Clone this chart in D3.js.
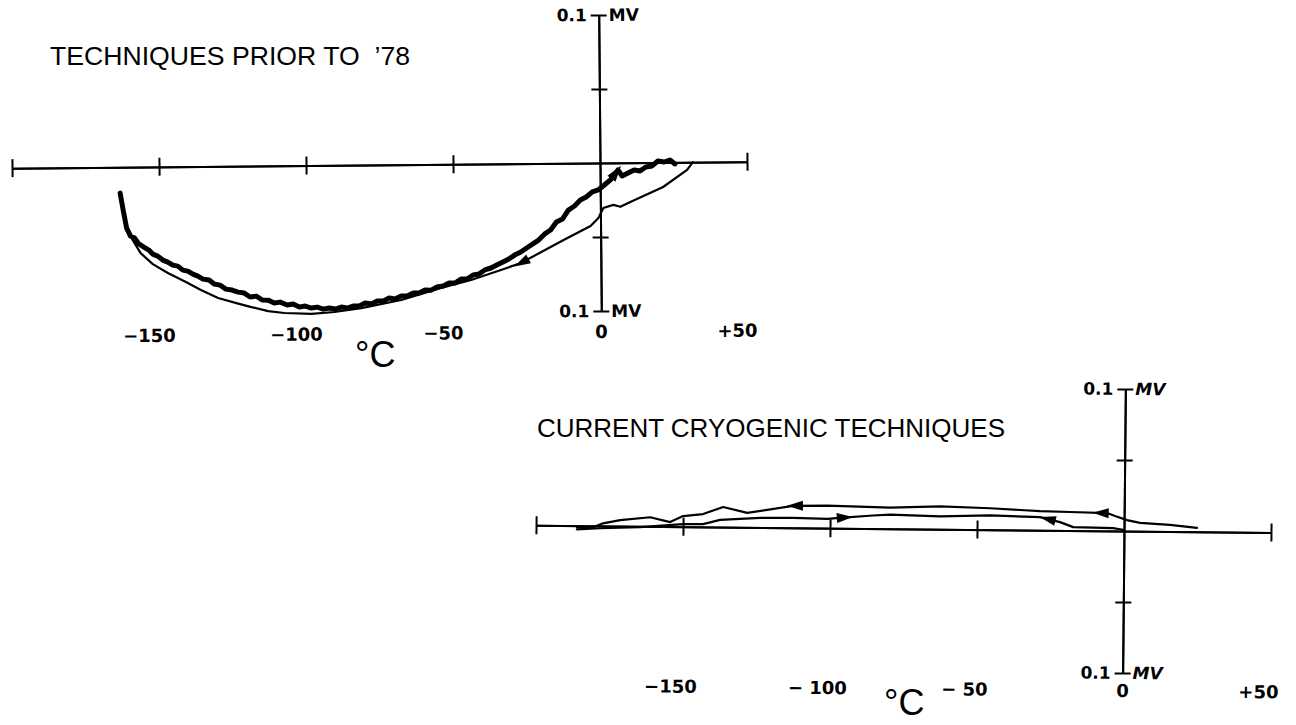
<!DOCTYPE html>
<html>
<head>
<meta charset="utf-8">
<script src="https://cdn.jsdelivr.net/npm/d3@7"></script>
<style>
  html, body { margin: 0; padding: 0; background: #fff; }
  svg { display: block; }
  .title { font-family: "Liberation Sans", Arial, sans-serif; font-size: 25px; fill: #000; white-space: pre; }
  .tick-label { font-family: "DejaVu Sans", sans-serif; font-weight: bold; font-size: 18px; fill: #000; white-space: pre; }
  .unit { font-family: "DejaVu Sans", sans-serif; font-weight: bold; font-size: 17px; fill: #000; }
  .degc { font-family: "Liberation Sans", Arial, sans-serif; font-size: 36px; fill: #000; }
</style>
</head>
<body>
<svg id="chart" width="1296" height="725"></svg>
<script>
// ---------------- DATA ----------------
const topTitle = "TECHNIQUES PRIOR TO  \u201978";
const bottomTitle = "CURRENT CRYOGENIC TECHNIQUES";

const xTickValues = [-200, -150, -100, -50, 50];
const yTickValues = [-0.1, -0.05, 0.05, 0.1];
const xLabelValues = [-150, -100, -50, 0, 50];
const topXLabels = ["\u2212150", "\u2212100", "\u221250", "0", "+50"];
const bottomXLabels = ["\u2212150", "\u2212 100", "\u2212 50", "0", "+50"];
const yUnitLabel = "0.1";
const yUnitName = "MV";
const xUnitName = "\u00B0C";

// Top panel: smooth trace (cooling), [°C, mV]
const topCool = [[-163.3,-0.0175],[-162.6,-0.0256],[-161.6,-0.0378],[-159.2,-0.0493],[-156.5,-0.0582],
  [-152.4,-0.0657],[-147.3,-0.0718],[-141.2,-0.0780],[-136.1,-0.0835],[-130.3,-0.0890],[-124.1,-0.0925],
  [-119.0,-0.0953],[-113.3,-0.0981],[-107.8,-0.0995],[-98.6,-0.1003],[-90.8,-0.0991],[-81.6,-0.0966],
  [-68.0,-0.0914],[-54.4,-0.0835],[-44.2,-0.0783],[-34.0,-0.0717],[-27.2,-0.0671],[-12.6,-0.0518],
  [-3.4,-0.0425],[-0.7,-0.0372],[1.0,-0.0304],[4.4,-0.0284],[6.8,-0.0297],[10.2,-0.0265],
  [21.4,-0.0166],[29.6,-0.0052],[31.6,0.0001]];

// Top panel: noisy trace (warming), [°C, mV]
const topHeat = [[-163.3,-0.0175],[-162.2,-0.0304],[-161.2,-0.0412],[-159.9,-0.0466],[-158.5,-0.0480],
  [-157.1,-0.0520],[-155.4,-0.0541],[-153.7,-0.0562],[-152.4,-0.0589],[-150.7,-0.0603],[-149.0,-0.0630],
  [-147.3,-0.0644],[-145.6,-0.0665],[-143.9,-0.0672],[-142.2,-0.0699],[-140.5,-0.0706],[-138.8,-0.0727],
  [-137.1,-0.0741],[-135.4,-0.0761],[-133.3,-0.0768],[-131.6,-0.0795],[-129.6,-0.0803],[-127.6,-0.0830],
  [-125.5,-0.0837],[-123.5,-0.0851],[-121.4,-0.0858],[-119.4,-0.0885],[-117.3,-0.0879],[-115.3,-0.0906],
  [-113.3,-0.0907],[-111.2,-0.0927],[-109.2,-0.0921],[-106.8,-0.0941],[-104.8,-0.0935],[-102.7,-0.0956],
  [-100.7,-0.0949],[-98.6,-0.0963],[-96.6,-0.0957],[-94.6,-0.0971],[-92.5,-0.0964],[-90.5,-0.0971],
  [-88.4,-0.0958],[-86.4,-0.0965],[-84.4,-0.0952],[-82.3,-0.0952],[-80.3,-0.0932],[-78.2,-0.0939],
  [-76.2,-0.0920],[-74.1,-0.0920],[-72.1,-0.0900],[-70.1,-0.0907],[-68.0,-0.0887],[-66.0,-0.0888],
  [-63.9,-0.0868],[-61.9,-0.0868],[-59.9,-0.0848],[-57.8,-0.0849],[-55.8,-0.0828],[-53.7,-0.0822],
  [-51.7,-0.0802],[-49.7,-0.0803],[-47.6,-0.0776],[-45.6,-0.0776],[-43.5,-0.0749],[-41.5,-0.0743],
  [-39.5,-0.0716],[-37.4,-0.0703],[-35.4,-0.0683],[-33.3,-0.0663],[-31.3,-0.0643],[-29.3,-0.0617],
  [-27.2,-0.0597],[-25.2,-0.0570],[-23.1,-0.0543],[-21.1,-0.0517],[-19.0,-0.0476],[-17.0,-0.0450],
  [-15.0,-0.0396],[-12.9,-0.0376],[-10.9,-0.0316],[-8.8,-0.0289],[-6.8,-0.0249],[-4.8,-0.0229],
  [-2.7,-0.0195],[-0.7,-0.0182],[1.4,-0.0149],[3.4,-0.0116],[4.8,-0.0082],[6.1,-0.0048],[7.5,-0.0089],
  [9.5,-0.0069],[11.6,-0.0049],[13.6,-0.0056],[15.6,-0.0030],[17.7,-0.0023],[19.7,0.0010],[21.8,0.0003],
  [23.8,0.0016],[25.5,-0.0011]];

// Bottom panel: upper trace (cooling, right to left), [°C, mV]
const bottomCool = [[24.8,0.0027],[15.6,0.0046],[5.4,0.0058],[1.0,0.0077],[-3.1,0.0105],[-5.8,0.0125],
  [-18.4,0.0130],[-28.6,0.0134],[-45.6,0.0151],[-62.6,0.0161],[-79.6,0.0149],[-101.0,0.0158],
  [-112.6,0.0155],[-121.4,0.0125],[-128.2,0.0102],[-136.4,0.0142],[-143.2,0.0091],[-150.0,0.0075],
  [-154.4,0.0032],[-161.2,0.0065],[-171.4,0.0042],[-177.2,0.0019],[-180.6,-0.0010],[-186.1,-0.0011]];

// Bottom panel: lower trace (warming, left to right), [°C, mV]
const bottomHeat = [[-186.1,-0.0025],[-178.2,-0.0016],[-164.6,-0.0006],[-150.0,0.0019],[-143.2,0.0020],
  [-137.4,0.0051],[-123.8,0.0068],[-112.6,0.0070],[-101.0,0.0066],[-95.6,0.0075],[-85.4,0.0092],
  [-79.6,0.0100],[-62.6,0.0090],[-45.6,0.0101],[-28.6,0.0092],[-21.8,0.0058],[-17.3,0.0024],
  [-3.7,0.0020],[0.0,0.0007]];

// Arrow heads: series, temperature, direction (+1 toward warmer, -1 toward colder)
const topArrows = [["cool", -27, -1], ["heat", 5.5, 1]];
const bottomArrows = [["cool", -112, -1], ["cool", -8, -1], ["heat", -95, 1], ["heat", -26, -1]];

// ---------------- DRAWING ----------------
const svg = d3.select("#chart");

function panel(cfg) {
  const g = svg.append("g")
    .attr("transform", `rotate(${cfg.rot}, ${cfg.ox}, ${cfg.oy})`);

  const x = d3.scaleLinear().domain([-200, 50])
    .range([cfg.ox - 200 * cfg.pxPerDeg, cfg.ox + 50 * cfg.pxPerDeg]);
  const y = d3.scaleLinear().domain([-0.1, 0.1])
    .range([cfg.oy + 0.1 * cfg.pxPerMV, cfg.oy - 0.1 * cfg.pxPerMV]);

  const styleAxis = sel => {
    sel.selectAll("path").attr("stroke", "#000").attr("stroke-width", 2);
    sel.selectAll("line").attr("stroke", "#000").attr("stroke-width", 2);
    sel.selectAll("text").remove();
  };

  // horizontal axis, ticks on both sides
  g.append("g").attr("transform", `translate(0,${y(0)})`)
    .call(d3.axisBottom(x).tickValues(xTickValues).tickSizeInner(9).tickSizeOuter(0).tickFormat(""))
    .call(styleAxis);
  g.append("g").attr("transform", `translate(0,${y(0)})`)
    .call(d3.axisTop(x).tickValues(xTickValues).tickSizeInner(9).tickSizeOuter(0).tickFormat(""))
    .call(styleAxis);
  // vertical axis, ticks on both sides
  g.append("g").attr("transform", `translate(${x(0)},0)`)
    .call(d3.axisLeft(y).tickValues(yTickValues).tickSizeInner(8).tickSizeOuter(0).tickFormat(""))
    .call(styleAxis);
  g.append("g").attr("transform", `translate(${x(0)},0)`)
    .call(d3.axisRight(y).tickValues(yTickValues).tickSizeInner(8).tickSizeOuter(0).tickFormat(""))
    .call(styleAxis);

  // x tick labels
  g.selectAll(".tick-label.x").data(xLabelValues).join("text")
    .attr("class", "tick-label x")
    .attr("x", (d, i) => x(d) + (/^[\u2212+]/.test(cfg.xLabels[i]) ? -11 : 0))
    .attr("y", y(0) + cfg.labelDrop)
    .attr("text-anchor", "middle")
    .text((d, i) => cfg.xLabels[i]);

  // y unit labels at ends of vertical axis
  [0.1, -0.1].forEach(v => {
    g.append("text").attr("class", "unit")
      .attr("x", x(0) - 12).attr("y", y(v) + 6)
      .attr("text-anchor", "end").text(yUnitLabel);
    g.append("text").attr("class", "unit")
      .attr("x", x(0) + 10).attr("y", y(v) + 6)
      .attr("font-style", cfg.italicUnit ? "italic" : "normal")
      .text(yUnitName);
  });

  // traces
  const line = d3.line().x(d => x(d[0])).y(d => y(d[1])).curve(d3.curveLinear);
  const series = { cool: cfg.cool, heat: cfg.heat };
  g.append("path").datum(cfg.cool).attr("d", line)
    .attr("fill", "none").attr("stroke", "#000").attr("stroke-width", cfg.coolWidth)
    .attr("stroke-linejoin", "round").attr("stroke-linecap", "round");
  g.append("path").datum(cfg.heat).attr("d", line)
    .attr("fill", "none").attr("stroke", "#000").attr("stroke-width", cfg.heatWidth)
    .attr("stroke-linejoin", "round").attr("stroke-linecap", "round");

  // arrowheads placed on the traces
  cfg.arrows.forEach(([name, t, dir]) => {
    const pts = series[name].slice().sort((a, b) => a[0] - b[0]);
    let i = 0;
    while (i < pts.length - 2 && pts[i + 1][0] < t) i++;
    const a = pts[i], b = pts[i + 1];
    const f = (t - a[0]) / (b[0] - a[0]);
    const v = a[1] + f * (b[1] - a[1]);
    const ang = Math.atan2(y(b[1]) - y(a[1]), x(b[0]) - x(a[0])) * 180 / Math.PI + (dir < 0 ? 180 : 0);
    g.append("path")
      .attr("d", "M8,0 L-8,-5 L-8,5 Z")
      .attr("fill", "#000")
      .attr("transform", `translate(${x(t)},${y(v)}) rotate(${ang})`);
  });

  // degree unit
  svg.append("text").attr("class", "degc")
    .attr("x", cfg.degX).attr("y", cfg.degY).text(xUnitName);

  // title
  svg.append("text").attr("class", "title")
    .attr("x", cfg.titleX).attr("y", cfg.titleY)
    .attr("textLength", cfg.titleLen).attr("lengthAdjust", "spacingAndGlyphs")
    .text(cfg.title);
}

panel({
  ox: 600, oy: 163, rot: -0.5, pxPerDeg: 2.94, pxPerMV: 1480,
  xLabels: topXLabels, labelDrop: 175, italicUnit: false,
  cool: topCool, heat: topHeat, coolWidth: 2.2, heatWidth: 5, arrows: topArrows,
  degX: 355, degY: 367, title: topTitle, titleX: 50, titleY: 65, titleLen: 360
});

panel({
  ox: 1124, oy: 531, rot: 0.55, pxPerDeg: 2.94, pxPerMV: 1420,
  xLabels: bottomXLabels, labelDrop: 166, italicUnit: true,
  cool: bottomCool, heat: bottomHeat, coolWidth: 2.2, heatWidth: 2.2, arrows: bottomArrows,
  degX: 884, degY: 715, title: bottomTitle, titleX: 537, titleY: 437, titleLen: 468
});
</script>
</body>
</html>
